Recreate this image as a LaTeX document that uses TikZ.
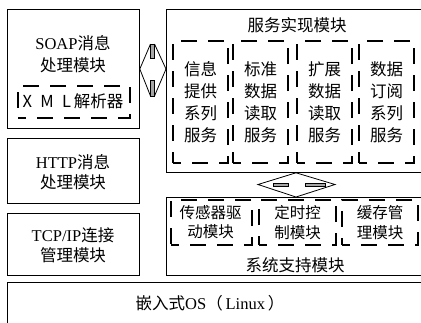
\documentclass[tikz,border=0pt]{standalone}
\usepackage{fontspec}
\setmainfont{Liberation Serif}
\newfontfamily\cjk{Noto Sans CJK SC}
\newcommand\zh[1]{{\cjk #1}}
\begin{document}
\begin{tikzpicture}[x=1pt,y=-1pt,
  box/.style={draw, line width=0.8pt, inner sep=0pt, anchor=north west},
  dbox/.style={draw, line width=2.2pt, dash pattern=on 16pt off 11pt, dash phase=8pt, inner sep=0pt, anchor=north west},
  lbl/.style={align=center, inner sep=0pt, font=\fontsize{16.5}{22}\selectfont},
  slbl/.style={align=center, inner sep=0pt, font=\fontsize{15.5}{19.5}\selectfont\cjk},
  shaft/.style={draw, line width=0.6pt, fill=gray!70},
  dia/.style={draw, line width=0.8pt, line join=miter}]
\useasboundingbox (0,0) rectangle (421,322);
\clip (0,0) rectangle (421,322);
% left column
\node[box, minimum width=132, minimum height=119] (soap) at (7,9) {};
\node[dbox, minimum width=112, minimum height=32] (xml) at (17,85) {};
\node[box, minimum width=132, minimum height=65] (http) at (7,138) {};
\node[box, minimum width=132, minimum height=62] (tcp) at (7,213) {};
\node[box, minimum width=440, minimum height=60] (os) at (7,282) {};
\node[lbl] (soapt) at (73,54) {SOAP\zh{消息}\\\zh{处理模块}};
\node[lbl, font=\fontsize{16.5}{22}\selectfont\cjk] (xmlt) at (73,101) {X\enspace M\enspace L\,解析器};
\node[lbl, font=\fontsize{16.5}{20}\selectfont] (httpt) at (73,172) {HTTP\zh{消息}\\\zh{处理模块}};
\node[lbl, font=\fontsize{16.5}{20}\selectfont] (tcpt) at (73,245) {TCP/IP\zh{连接}\\\zh{管理模块}};
\node[lbl] (ost) at (210,303) {\zh{嵌入式}OS\zh{（}\,Linux\,\zh{）}};
% service module
\node[box, minimum width=262, minimum height=163] (svc) at (166,9) {};
\node[lbl, font=\fontsize{16.5}{22}\selectfont\cjk] (svct) at (297,25) {服务实现模块};
\node[dbox, minimum width=55, minimum height=122] (s1) at (172,40) {};
\node[dbox, minimum width=55, minimum height=122] (s2) at (232,40) {};
\node[dbox, minimum width=55, minimum height=122] (s3) at (296,40) {};
\node[dbox, minimum width=55, minimum height=122] (s4) at (358,40) {};
\node[lbl, font=\fontsize{16.5}{22}\selectfont\cjk] (s1t) at (s1.center) {信息\\提供\\系列\\服务};
\node[lbl, font=\fontsize{16.5}{22}\selectfont\cjk] (s2t) at (s2.center) {标准\\数据\\读取\\服务};
\node[lbl, font=\fontsize{16.5}{22}\selectfont\cjk] (s3t) at (s3.center) {扩展\\数据\\读取\\服务};
\node[lbl, font=\fontsize{16.5}{22}\selectfont\cjk] (s4t) at (s4.center) {数据\\订阅\\系列\\服务};
% support module
\node[box, minimum width=262, minimum height=78] (sup) at (166,197) {};
\node[lbl, font=\fontsize{16.5}{22}\selectfont\cjk] (supt) at (295,265) {系统支持模块};
\node[dbox, minimum width=81, minimum height=45] (d1) at (170,199) {};
\node[dbox, minimum width=77, minimum height=45] (d2) at (258,199) {};
\node[dbox, minimum width=76, minimum height=45] (d3) at (341,199) {};
\node[slbl] (d1t) at (210.5,222) {传感器驱\\动模块};
\node[slbl] (d2t) at (d2.center) {定时控\\制模块};
\node[slbl] (d3t) at (d3.center) {缓存管\\理模块};
% double arrow between SOAP and service
\coordinate (a1l) at (soap.east |- 0,69);
\coordinate (a1r) at (svc.west |- 0,69);
\draw[dia] (a1l) -- (150.5,44) (154.5,44) -- (a1r) -- (154.5,96) (150.5,96) -- (a1l);
\draw[shaft] (150.5,44) rectangle (154.5,58);
\draw[shaft] (150.5,80) rectangle (154.5,96);
% double arrow between service and support
\coordinate (a2t) at (svc.south -| 296,0);
\coordinate (a2b) at (sup.north -| 296,0);
\draw[dia] (258,184.5) -- (a2t) -- (335,184.5) -- (a2b) -- cycle;
\draw[shaft] (273,183) rectangle (288,186.5);
\draw[shaft] (305,183) rectangle (325,186.5);
\end{tikzpicture}
\end{document}
